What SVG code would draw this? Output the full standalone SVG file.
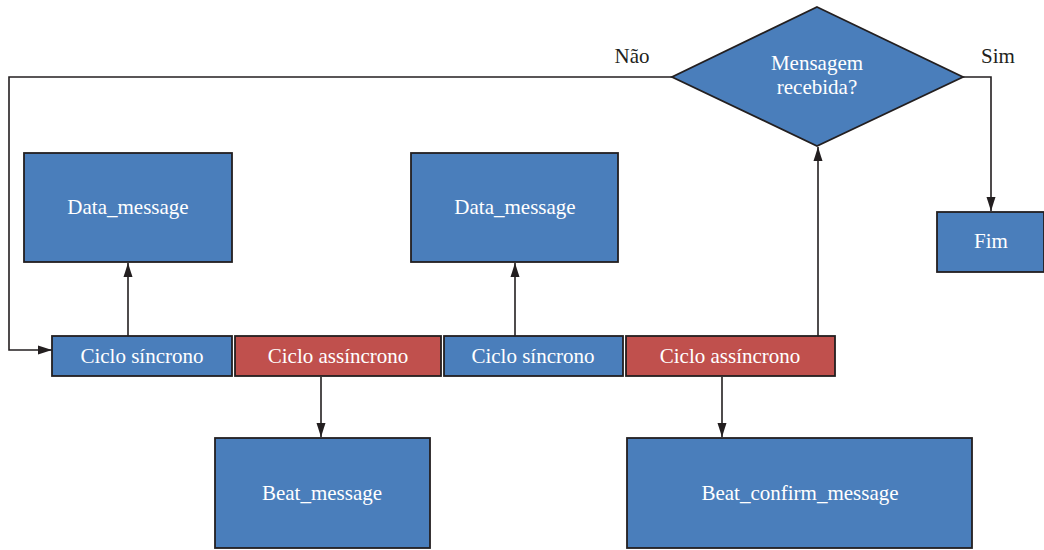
<svg xmlns="http://www.w3.org/2000/svg" width="1044" height="550" viewBox="0 0 1044 550">
<style>
.b{fill:#4a7ebb;stroke:#231f20;stroke-width:1.8}
.r{fill:#c0504d;stroke:#231f20;stroke-width:1.8}
.t{font-family:"Liberation Serif",serif;font-size:21px;fill:#fff;text-anchor:middle}
.k{font-family:"Liberation Serif",serif;font-size:21px;fill:#231f20;text-anchor:middle}
.c{fill:none;stroke:#231f20;stroke-width:1.6}
</style>
<defs>
<marker id="a" viewBox="0 0 14 10" refX="14" refY="5" markerWidth="14" markerHeight="10" markerUnits="userSpaceOnUse" orient="auto">
<path d="M0,0.5 L14,5 L0,9.5 z" fill="#231f20"/>
</marker>
</defs>
<g id="connectors">
<path class="c" d="M672,77 H9 V350 H52" marker-end="url(#a)"/>
<path class="c" d="M128,336 V263" marker-end="url(#a)"/>
<path class="c" d="M515,336 V263" marker-end="url(#a)"/>
<path class="c" d="M818,336 V147" marker-end="url(#a)"/>
<path class="c" d="M321,377 V437" marker-end="url(#a)"/>
<path class="c" d="M722,377 V437" marker-end="url(#a)"/>
<path class="c" d="M963,77 H991 V211" marker-end="url(#a)"/>
</g>
<g id="label-nao"><text class="k" x="632" y="63">Não</text></g>
<g id="label-sim"><text class="k" x="998" y="63">Sim</text></g>
<g id="decision">
<polygon class="b" points="817,7 963,77 817,146 672,77"/>
<text class="t" x="817" y="70">Mensagem</text>
<text class="t" x="817" y="94">recebida?</text>
</g>
<g id="fim"><rect class="b" x="937" y="212" width="107" height="60"/><text class="t" x="991" y="248">Fim</text></g>
<g id="data1"><rect class="b" x="24" y="153" width="208" height="109"/><text class="t" x="128" y="214">Data_message</text></g>
<g id="data2"><rect class="b" x="411" y="153" width="207" height="109"/><text class="t" x="515" y="214">Data_message</text></g>
<g id="sync1"><rect class="b" x="52" y="336" width="180" height="40"/><text class="t" x="142" y="363">Ciclo síncrono</text></g>
<g id="async1"><rect class="r" x="235" y="336" width="206" height="40"/><text class="t" x="338" y="363">Ciclo assíncrono</text></g>
<g id="sync2"><rect class="b" x="444" y="336" width="179" height="40"/><text class="t" x="533" y="363">Ciclo síncrono</text></g>
<g id="async2"><rect class="r" x="626" y="336" width="209" height="40"/><text class="t" x="730" y="363">Ciclo assíncrono</text></g>
<g id="beat"><rect class="b" x="215" y="438" width="215" height="110"/><text class="t" x="322" y="500">Beat_message</text></g>
<g id="beatconfirm"><rect class="b" x="627" y="438" width="345" height="110"/><text class="t" x="800" y="500">Beat_confirm_message</text></g>
</svg>
